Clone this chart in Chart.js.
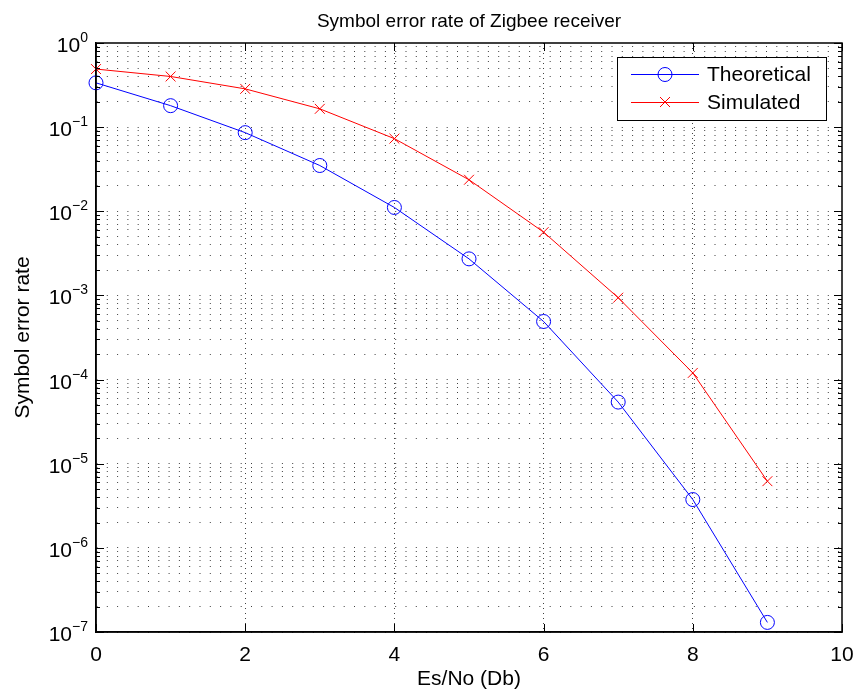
<!DOCTYPE html>
<html>
<head>
<meta charset="utf-8">
<script src="https://cdn.jsdelivr.net/npm/chart.js@4.4.0/dist/chart.umd.min.js"></script>
<style>
  html, body { margin: 0; padding: 0; background: #fff; }
  #wrap { width: 857px; height: 695px; }
</style>
</head>
<body>
<div id="wrap"><canvas id="ser-chart" width="857" height="695"></canvas></div>
<script>
// Es/No (dB) sample points
const esNo = [0, 1, 2, 3, 4, 5, 6, 7, 8, 9];
// symbol error rate
const theoretical = [0.336, 0.18, 0.086, 0.035, 0.0111, 0.00272, 4.9e-4, 5.4e-5, 3.75e-6, 1.3e-7];
const simulated = [0.49, 0.40, 0.285, 0.165, 0.073, 0.0237, 0.00565, 9.4e-4, 1.2e-4, 6.2e-6];
// axis ticks
const xTicks = [0, 2, 4, 6, 8, 10];
const yExponents = [-7, -6, -5, -4, -3, -2, -1, 0];

const FONT = '"Liberation Sans", Arial, Helvetica, sans-serif';

// 1..9 x 10^n for every decade, plus 10^0 at the top
const yTickValues = [];
yExponents.forEach(e => {
  if (e === 0) { yTickValues.push(1); return; }
  for (let m = 1; m <= 9; m++) yTickValues.push(Number((m * Math.pow(10, e)).toPrecision(3)));
});

const toPoints = (xs, ys) => xs.map((x, i) => ({ x, y: ys[i] }));

/**
 * MATLAB style frame: box, inward ticks, 10^n labels, title, axis labels, legend
 */
const matlabFrame = {
  id: 'matlabFrame',
  afterDraw(chart) {
    const { ctx, chartArea: a, scales: { x, y } } = chart;
    ctx.save();

    // box
    ctx.strokeStyle = '#000';
    ctx.lineWidth = 1.5;
    ctx.strokeRect(a.left, a.top, a.right - a.left, a.bottom - a.top);

    // inward tick marks
    ctx.lineWidth = 1;
    ctx.beginPath();
    yTickValues.forEach(v => {
      const py = Math.round(y.getPixelForValue(v)) + 0.5;
      const len = Number.isInteger(Math.log10(v)) ? 8 : 4;
      ctx.moveTo(a.left, py); ctx.lineTo(a.left + len, py);
      ctx.moveTo(a.right, py); ctx.lineTo(a.right - len, py);
    });
    xTicks.forEach(v => {
      const px = Math.round(x.getPixelForValue(v)) + 0.5;
      ctx.moveTo(px, a.bottom); ctx.lineTo(px, a.bottom - 8);
      ctx.moveTo(px, a.top); ctx.lineTo(px, a.top + 8);
    });
    ctx.stroke();

    // y tick labels 10^n
    ctx.fillStyle = '#000';
    ctx.textBaseline = 'alphabetic';
    yExponents.forEach(e => {
      const py = y.getPixelForValue(Math.pow(10, e));
      const sup = e === 0 ? '0' : '\u2212' + Math.abs(e);
      ctx.font = '14px ' + FONT;
      const supW = ctx.measureText(sup).width;
      const right = 88;
      ctx.textAlign = 'left';
      ctx.fillText(sup, right - supW, py - 1);
      ctx.font = '21px ' + FONT;
      ctx.textAlign = 'right';
      ctx.fillText('10', right - supW, py + 9);
    });

    // title
    ctx.font = '19px ' + FONT;
    ctx.textAlign = 'center';
    ctx.fillText('Symbol error rate of Zigbee receiver', (a.left + a.right) / 2, 27);

    // x label
    ctx.font = '21px ' + FONT;
    ctx.fillText('Es/No (Db)', (a.left + a.right) / 2, 685);

    // y label
    ctx.save();
    ctx.translate(29, (a.top + a.bottom) / 2);
    ctx.rotate(-Math.PI / 2);
    ctx.fillText('Symbol error rate', 0, 0);
    ctx.restore();

    // legend
    const box = { l: 617, t: 57, r: 826, b: 120 };
    ctx.fillStyle = '#fff';
    ctx.fillRect(box.l, box.t, box.r - box.l, box.b - box.t);
    ctx.strokeStyle = '#000';
    ctx.lineWidth = 1;
    ctx.strokeRect(box.l + 0.5, box.t + 0.5, box.r - box.l, box.b - box.t);

    const rows = [
      { label: 'Theoretical', color: '#0000ff', y: 74, mark: 'o' },
      { label: 'Simulated', color: '#ff0000', y: 102, mark: 'x' }
    ];
    rows.forEach(row => {
      ctx.strokeStyle = row.color;
      ctx.beginPath();
      ctx.moveTo(631, row.y + 0.5);
      ctx.lineTo(699, row.y + 0.5);
      ctx.stroke();
      ctx.beginPath();
      if (row.mark === 'o') {
        ctx.arc(665, row.y + 0.5, 7, 0, Math.PI * 2);
      } else {
        ctx.moveTo(660, row.y - 5); ctx.lineTo(670, row.y + 5);
        ctx.moveTo(670, row.y - 5); ctx.lineTo(660, row.y + 5);
      }
      ctx.stroke();
      ctx.fillStyle = '#000';
      ctx.font = '21px ' + FONT;
      ctx.textAlign = 'left';
      ctx.textBaseline = 'middle';
      ctx.fillText(row.label, 707, row.y + 1);
    });

    ctx.restore();
  }
};

const ctx = document.getElementById('ser-chart').getContext('2d');

new Chart(ctx, {
  type: 'line',
  data: {
    datasets: [
      {
        label: 'Theoretical',
        data: toPoints(esNo, theoretical),
        borderColor: '#0000ff',
        borderWidth: 1,
        pointStyle: 'circle',
        pointRadius: 7,
        pointBorderColor: '#0000ff',
        pointBackgroundColor: 'rgba(0,0,0,0)',
        pointBorderWidth: 1,
        tension: 0,
        fill: false
      },
      {
        label: 'Simulated',
        data: toPoints(esNo, simulated),
        borderColor: '#ff0000',
        borderWidth: 1,
        pointStyle: 'crossRot',
        pointRadius: 7,
        pointBorderColor: '#ff0000',
        pointBorderWidth: 1,
        tension: 0,
        fill: false
      }
    ]
  },
  options: {
    responsive: false,
    animation: false,
    clip: false,
    layout: { padding: { top: 43, right: 15, left: 0, bottom: 0 } },
    plugins: {
      legend: { display: false },
      title: { display: false },
      tooltip: { enabled: false }
    },
    scales: {
      x: {
        type: 'linear',
        min: 0,
        max: 10,
        afterBuildTicks: (scale) => {
          scale.ticks = xTicks.map(v => ({ value: v }));
        },
        afterFit: (scale) => {
          scale.height = 63;
          scale.paddingLeft = 0;
          scale.paddingRight = 0;
        },
        ticks: {
          autoSkip: false,
          maxRotation: 0,
          padding: 11,
          color: '#000',
          font: { family: FONT, size: 21 }
        },
        grid: {
          drawTicks: false,
          color: (c) => (c.tick && (c.tick.value === 0 || c.tick.value === 10)) ? 'rgba(0,0,0,0)' : 'rgba(0,0,0,0.75)',
          lineWidth: 1
        },
        border: { display: true, color: '#000', width: 1.5, dash: [1, 4] }
      },
      y: {
        type: 'logarithmic',
        min: 1e-7,
        max: 1,
        afterBuildTicks: (scale) => {
          scale.ticks = yTickValues.map(v => ({ value: v }));
        },
        afterFit: (scale) => {
          scale.width = 96;
          scale.paddingTop = 0;
          scale.paddingBottom = 0;
        },
        ticks: {
          autoSkip: false,
          callback: () => ''
        },
        grid: {
          drawTicks: false,
          color: (c) => (c.tick && c.tick.value === 1) ? 'rgba(0,0,0,0)' : 'rgba(0,0,0,0.75)',
          lineWidth: 1
        },
        border: { display: true, color: '#000', width: 1.5, dash: [1, 9.3] }
      }
    }
  },
  plugins: [matlabFrame]
});
</script>
</body>
</html>
